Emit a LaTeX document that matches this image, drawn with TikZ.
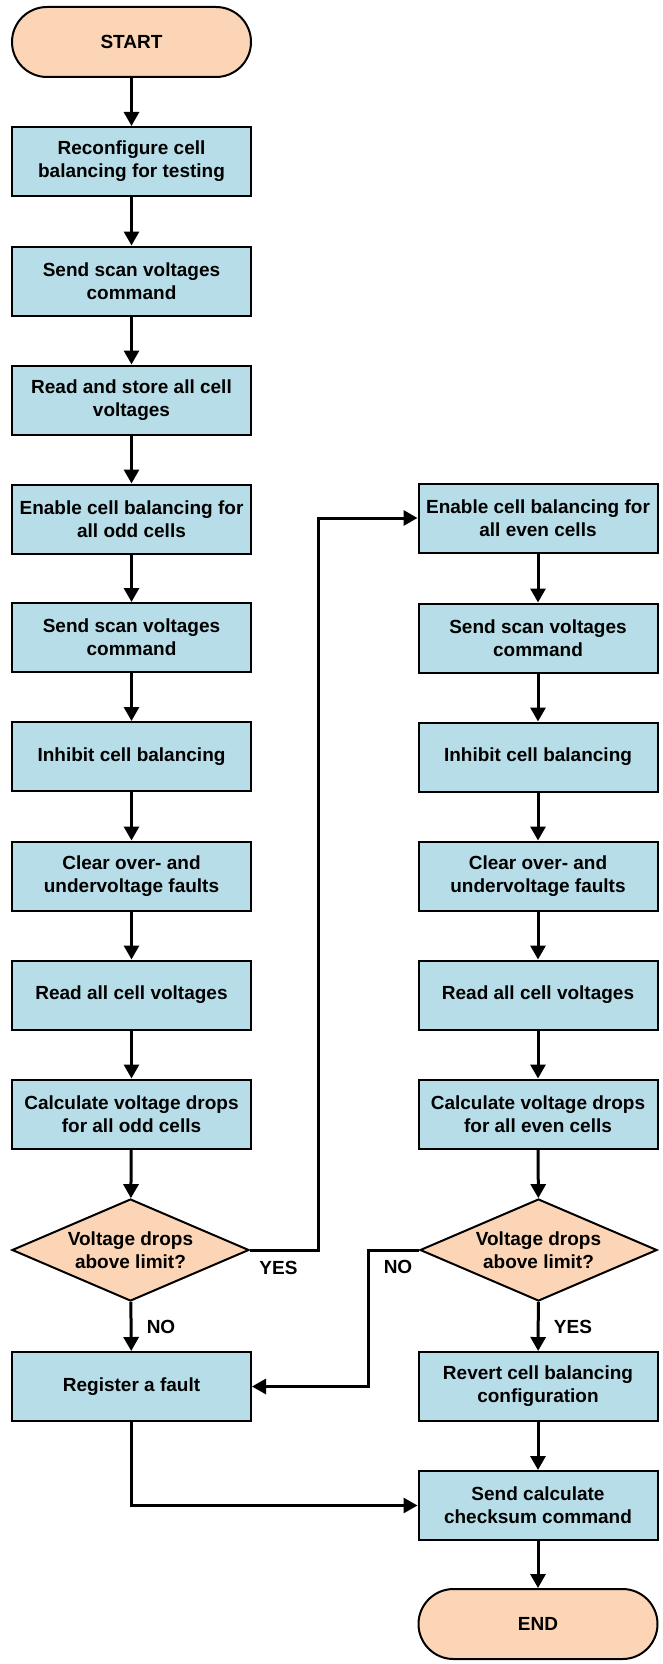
\documentclass[tikz,border=0pt]{standalone}
\usepackage{fontspec}
\setmainfont{Liberation Sans}
\usetikzlibrary{shapes.geometric,arrows.meta}
\definecolor{boxblue}{RGB}{183,222,232}
\definecolor{peach}{RGB}{251,213,181}
\begin{document}
\begin{tikzpicture}[x=1pt,y=-1pt,
  every node/.style={font=\fontsize{19}{23}\selectfont\bfseries},
  procbox/.style={draw=black,line width=2pt,fill=boxblue,minimum width=239pt,minimum height=69pt,align=center,inner sep=0pt},
  termbox/.style={draw=black,line width=2pt,fill=peach,rounded corners=35pt,minimum width=239pt,minimum height=70pt,align=center,inner sep=0pt},
  decbox/.style={draw=black,line width=2pt,fill=peach,diamond,aspect=2.3,minimum width=237pt,minimum height=102pt,align=center,inner sep=0pt},
  flow/.style={line width=3pt,-{Triangle[length=14pt,width=15pt]}},
  plainlabel/.style={inner sep=0pt}
]
\useasboundingbox (0,0) rectangle (663,1664);
% left column
\node[termbox] (start) at (131.5,42) {START};
\node[procbox] (l1) at (131.5,161.5) {Reconfigure cell\\balancing for testing};
\node[procbox] (l2) at (131.5,281) {Send scan voltages\\command};
\node[procbox] (l3) at (131.5,400) {Read and store all cell\\voltages};
\node[procbox] (l4) at (131.5,519) {Enable cell balancing for\\all odd cells};
\node[procbox] (l5) at (131.5,637.5) {Send scan voltages\\command};
\node[procbox] (l6) at (131.5,756.5) {Inhibit cell balancing};
\node[procbox] (l7) at (131.5,876) {Clear over- and\\undervoltage faults};
\node[procbox] (l8) at (131.5,995) {Read all cell voltages};
\node[procbox] (l9) at (131.5,1114) {Calculate voltage drops\\for all odd cells};
\node[decbox] (d1) at (130.5,1250) {Voltage drops\\above limit?};
\node[procbox] (reg) at (131.5,1386.5) {Register a fault};
% right column
\node[procbox] (r1) at (538,518) {Enable cell balancing for\\all even cells};
\node[procbox] (r2) at (538,638) {Send scan voltages\\command};
\node[procbox] (r3) at (538,757) {Inhibit cell balancing};
\node[procbox] (r4) at (538,876) {Clear over- and\\undervoltage faults};
\node[procbox] (r5) at (538,995) {Read all cell voltages};
\node[procbox] (r6) at (538,1114) {Calculate voltage drops\\for all even cells};
\node[decbox] (d2) at (538.5,1250) {Voltage drops\\above limit?};
\node[procbox] (rev) at (538,1386.5) {Revert cell balancing\\configuration};
\node[procbox] (sc) at (538,1505.5) {Send calculate\\checksum command};
\node[termbox] (end) at (538,1624) {END};
% bend points
\coordinate (yx) at (318,0);
\coordinate (nx) at (368,0);
\coordinate (by) at (0,1506);
% vertical flow
\draw[flow] (start) -- (l1);
\draw[flow] (l1) -- (l2);
\draw[flow] (l2) -- (l3);
\draw[flow] (l3) -- (l4);
\draw[flow] (l4) -- (l5);
\draw[flow] (l5) -- (l6);
\draw[flow] (l6) -- (l7);
\draw[flow] (l7) -- (l8);
\draw[flow] (l8) -- (l9);
\draw[flow] (l9) -- (d1);
\draw[flow] (d1) -- (reg);
\draw[flow] (r1) -- (r2);
\draw[flow] (r2) -- (r3);
\draw[flow] (r3) -- (r4);
\draw[flow] (r4) -- (r5);
\draw[flow] (r5) -- (r6);
\draw[flow] (r6) -- (d2);
\draw[flow] (d2) -- (rev);
\draw[flow] (rev) -- (sc);
\draw[flow] (sc) -- (end);
% branches
\draw[flow] (d1.east) -| (yx |- r1.west) -- (r1.west);
\draw[flow] (d2.west) -| (nx |- reg.east) -- (reg.east);
\draw[flow] (reg.south) |- (sc.west);
% labels
\node[plainlabel] (yes1) at (278.5,1268) {YES};
\node[plainlabel] (no1) at (161,1327) {NO};
\node[plainlabel] (no2) at (398,1267) {NO};
\node[plainlabel] (yes2) at (573,1327) {YES};
\end{tikzpicture}
\end{document}
